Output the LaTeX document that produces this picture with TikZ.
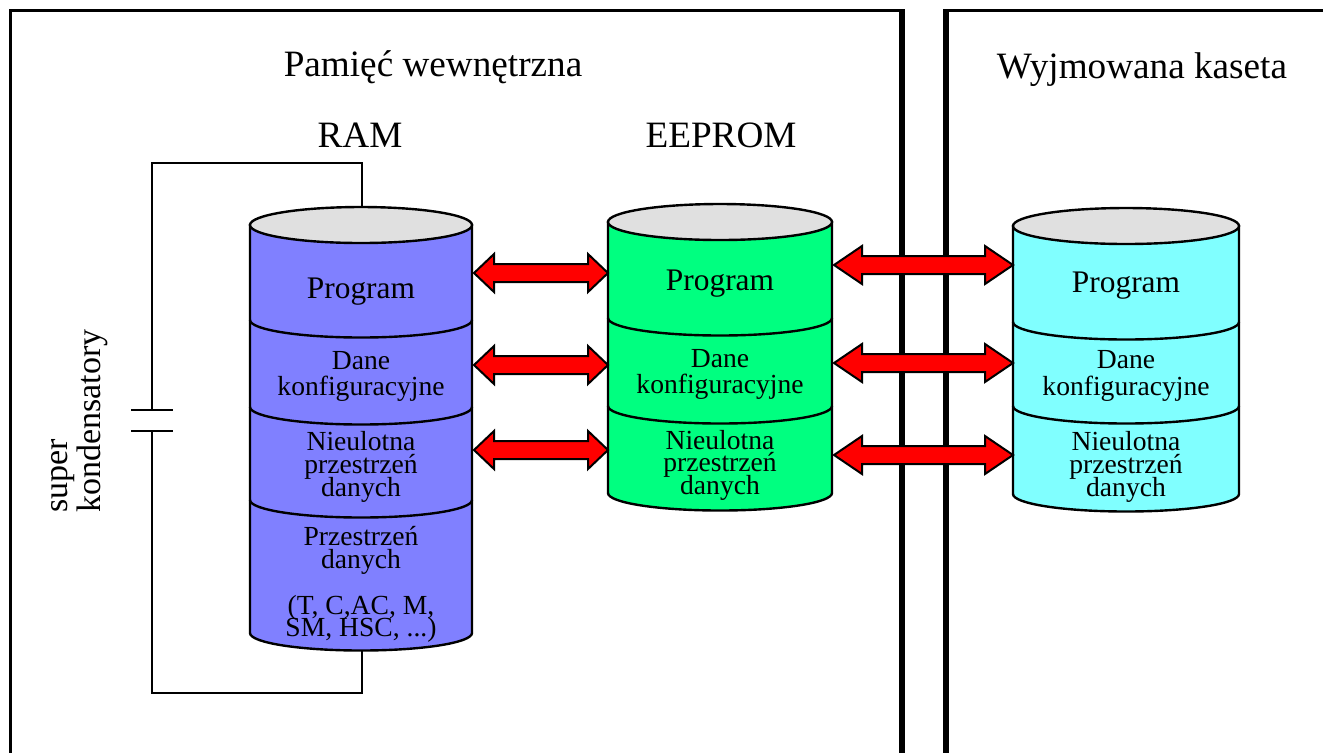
\documentclass[tikz,border=0pt]{standalone}
\usepackage{fontspec}
\setmainfont{Liberation Serif}
\usetikzlibrary{calc}
\definecolor{ramblue}{RGB}{128,128,255}
\definecolor{eegreen}{RGB}{0,255,128}
\definecolor{cascyan}{RGB}{128,255,255}
\definecolor{topgray}{RGB}{224,224,224}
\definecolor{arrred}{RGB}{255,0,0}
\tikzset{
  frame/.style={line width=1.5pt},
  framethick/.style={line width=2.6pt},
  wire/.style={line width=1pt},
  plate/.style={line width=1.3pt},
  cylline/.style={line width=1.2pt},
  blockarrow/.style={draw=black, fill=arrred, line width=1pt, line join=miter},
  title/.style={font=\fontsize{18.6}{20}\selectfont, inner sep=0, anchor=base},
  lbl/.style={font=\fontsize{13.8}{14}\selectfont, inner sep=0, anchor=base},
  prog/.style={font=\fontsize{15.7}{16}\selectfont, inner sep=0, anchor=base},
  sidetxt/.style={font=\fontsize{17}{17}\selectfont, inner sep=0, rotate=90, anchor=base west}
}
\newcommand\drawcyl[6]{%
  \filldraw[cylline, fill=#5] (#1-#2,#3) -- (#1-#2,#4)
     arc[start angle=180, end angle=0, x radius=#2, y radius=17.5] -- (#1+#2,#3) -- cycle;
  \foreach \s in {#6} {\draw[cylline] (#1-#2,\s) arc[start angle=180, end angle=0, x radius=#2, y radius=17.5];}
  \filldraw[cylline, fill=topgray] (#1,#3) ellipse[x radius=#2, y radius=18];
}
\newcommand\dblarrow[3]{%
  \draw[blockarrow] (#1) -- ($(#1)+(#3,-19)$) -- ($(#1)+(#3,-9)$) -- ($(#2)+(-#3,-9)$)
    -- ($(#2)+(-#3,-19)$) -- (#2) -- ($(#2)+(-#3,19)$) -- ($(#2)+(-#3,9)$)
    -- ($(#1)+(#3,9)$) -- ($(#1)+(#3,19)$) -- cycle;
}
\newcommand\tlines[5]{%
  \foreach \t [count=\i] in {#5} {\node[lbl] (#1\i) at (#2, #3+\i*#4-#4) {\t};}
}
\begin{document}
\begin{tikzpicture}[x=0.5pt, y=-0.5pt]
\useasboundingbox (0,0) rectangle (1323,752);
\fill[white] (0,0) rectangle (1323,752);

% frames
\draw[frame] (10,760) -- (10,10) -- (902,10);
\draw[framethick] (902,9) -- (902,760);
\draw[frame] (946,10) -- (1330,10);
\draw[framethick] (946,9) -- (946,760);

% titles
\node[title] (tint) at (433,76) {Pamięć wewnętrzna};
\node[title] (tcas) at (1142,78) {Wyjmowana kaseta};
\node[title] (tram) at (360,147) {RAM};
\node[title] (teep) at (721,147) {EEPROM};

% supercapacitor wiring
\coordinate (ramtop) at (362,207);
\coordinate (rambot) at (362,651);
\coordinate (capA) at (152,410);
\coordinate (capB) at (152,431);
\draw[wire] (ramtop) -- (362,163) -- (152,163) -- (capA);
\draw[wire] (capB) -- (152,693) -- (362,693) -- (rambot);
\draw[plate] ($(capA)+(-21,0)$) -- ($(capA)+(21,0)$);
\draw[plate] ($(capB)+(-21,0)$) -- ($(capB)+(21,0)$);
\node[sidetxt] (sup) at (67,513) {super};
\node[sidetxt] (kond) at (100,513) {kondensatory};

% cylinders
\drawcyl{361}{111}{225}{633}{ramblue}{320,407,500}
\drawcyl{720}{112}{222}{493}{eegreen}{318,406}
\drawcyl{1126}{113}{226}{494}{cascyan}{322,406}

% RAM labels
\node[prog] (rprog) at (361,298) {Program};
\tlines{rdane}{361}{369}{26}{Dane,konfiguracyjne}
\tlines{rnie}{361}{450}{23}{Nieulotna,przestrzeń,danych}
\tlines{rprz}{361}{545}{23}{Przestrzeń,danych}
\node[lbl] (rlist1) at (361,614) {(T, C,AC, M,};
\node[lbl] (rlist2) at (361,636) {SM, HSC, ...)};

% EEPROM labels
\node[prog] (eprog) at (720,290) {Program};
\tlines{edane}{720}{367}{26}{Dane,konfiguracyjne}
\tlines{enie}{720}{449}{22.5}{Nieulotna,przestrzeń,danych}

% cassette labels
\node[prog] (cprog) at (1126,292) {Program};
\tlines{cdane}{1126}{368}{27}{Dane,konfiguracyjne}
\tlines{cnie}{1126}{450}{23}{Nieulotna,przestrzeń,danych}

% arrows
\coordinate (r1) at (474,273); \coordinate (e1l) at (608,273);
\coordinate (r2) at (474,365); \coordinate (e2l) at (608,365);
\coordinate (r3) at (474,450); \coordinate (e3l) at (608,450);
\coordinate (e1r) at (834,265); \coordinate (c1) at (1013,265);
\coordinate (e2r) at (834,363); \coordinate (c2) at (1013,363);
\coordinate (e3r) at (834,455); \coordinate (c3) at (1013,455);
\dblarrow{r1}{e1l}{20}
\dblarrow{r2}{e2l}{20}
\dblarrow{r3}{e3l}{20}
\dblarrow{e1r}{c1}{28}
\dblarrow{e2r}{c2}{28}
\dblarrow{e3r}{c3}{28}
\end{tikzpicture}
\end{document}
